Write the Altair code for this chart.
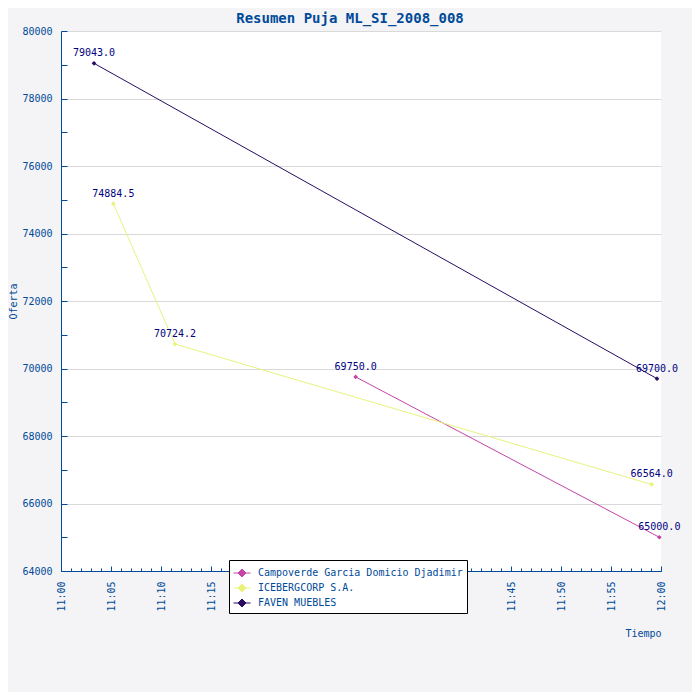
import altair as alt
import pandas as pd

series = ["Campoverde Garcia Domicio Djadimir", "Campoverde Garcia Domicio Djadimir",
          "ICEBERGCORP S.A.", "ICEBERGCORP S.A.", "ICEBERGCORP S.A.",
          "FAVEN MUEBLES", "FAVEN MUEBLES"]
times = ["11:29:28", "11:59:50", "11:05:14", "11:11:24", "11:59:04", "11:03:18", "11:59:36"]
values = [69750.0, 65000.0, 74884.5, 70724.2, 66564.0, 79043.0, 69700.0]
order = ["Campoverde Garcia Domicio Djadimir", "ICEBERGCORP S.A.", "FAVEN MUEBLES"]
colors = ["#c444aa", "#e8f27c", "#2a0c62"]

df = pd.DataFrame({"s": series, "t": ["2008-01-01T" + t for t in times], "v": values})

BLUE = "#004a99"
FONT = "DejaVu Sans Mono"

def dt(m):
    return alt.DateTime(year=2008, month=1, date=1, hours=11 + m // 60, minutes=m % 60)

xscale = alt.Scale(domain=[dt(0), dt(60)], nice=False)
yscale = alt.Scale(domain=[64000, 80000], nice=False, zero=False)
cscale = alt.Scale(domain=order, range=colors)

legend = alt.Legend(
    title=None, orient="none", legendX=168, legendY=529,
    symbolType="M-1,0L1,0M-0.47,0L0,-0.47L0.47,0L0,0.47Z", symbolSize=289,
    symbolStrokeWidth=1, labelFont=FONT, labelFontSize=10, labelColor=BLUE,
    labelLimit=400, fillColor="white", strokeColor="black", padding=4,
    rowPadding=0, labelOffset=7, offset=0,
)

xaxis_main = alt.Axis(
    title="Tiempo", values=[dt(m) for m in range(0, 61, 5)], format="%H:%M",
    labelAngle=270, labelAlign="right", labelBaseline="middle", labelPadding=10,
    ticks=False, grid=False, domainColor=BLUE, labelColor=BLUE, labelFont=FONT,
    labelFontSize=10, titleFont=FONT, titleFontSize=10, titleFontWeight="normal",
    titleColor=BLUE, titleX=600, titleY=65, titleAlign="right", titleBaseline="alphabetic",
)
yaxis_main = alt.Axis(
    title="Oferta", values=list(range(64000, 80001, 2000)), format="d",
    ticks=False, grid=True, gridColor="#d9d9d9", domainColor=BLUE, labelColor=BLUE,
    labelFont=FONT, labelFontSize=10, labelPadding=9, titleFont=FONT, titleFontSize=10,
    titleFontWeight="normal", titleColor=BLUE, titleX=-45, titleBaseline="alphabetic",
)
xaxis_minor = alt.Axis(
    title=None, orient="top", offset=-540, values=[dt(m) for m in range(0, 61)],
    labels=False, domain=False, grid=False, tickSize=3, tickColor=BLUE,
)
xaxis_major = alt.Axis(
    title=None, orient="top", offset=-540, values=[dt(m) for m in range(0, 61, 5)],
    labels=False, domain=False, grid=False, tickSize=5, tickColor=BLUE,
)
yaxis_ticks = alt.Axis(
    title=None, orient="right", offset=-600, values=list(range(64000, 80001, 1000)),
    labels=False, domain=False, grid=False, tickSize=6, tickColor=BLUE,
)

base = alt.Chart(df)
lines = base.mark_line(strokeWidth=1).encode(
    x=alt.X("t:T", scale=xscale, axis=xaxis_main),
    y=alt.Y("v:Q", scale=yscale, axis=yaxis_main),
    stroke=alt.Stroke("s:N", scale=cscale, sort=order, legend=legend),
)
points = base.mark_point(shape="diamond", filled=True, size=22, opacity=1).encode(
    x=alt.X("t:T", scale=xscale, axis=xaxis_minor),
    y=alt.Y("v:Q", scale=yscale, axis=yaxis_ticks),
    fill=alt.Fill("s:N", scale=cscale, sort=order, legend=legend),
)
labels = base.mark_text(dy=-7, baseline="alphabetic", font=FONT, fontSize=10, color="#000080").encode(
    x=alt.X("t:T", scale=xscale, axis=xaxis_major),
    y=alt.Y("v:Q", scale=yscale, axis=None),
    text=alt.Text("v:Q", format=".1f"),
)

chart = alt.layer(lines, points, labels).resolve_axis(x="independent", y="independent").properties(
    width=600, height=540,
    autosize=alt.AutoSizeParams(type="none"),
    padding={"left": 53, "top": 23, "right": 31, "bottom": 121},
    background="#f4f4f6",
    title=alt.TitleParams("Resumen Puja ML_SI_2008_008", font=FONT, fontSize=14, fontWeight="bold",
                          color=BLUE, offset=0, dx=-11, anchor="middle", frame="group"),
).configure_view(fill="white", stroke=None)

chart.save("out.html", embed_options={"renderer": "svg", "actions": False})
